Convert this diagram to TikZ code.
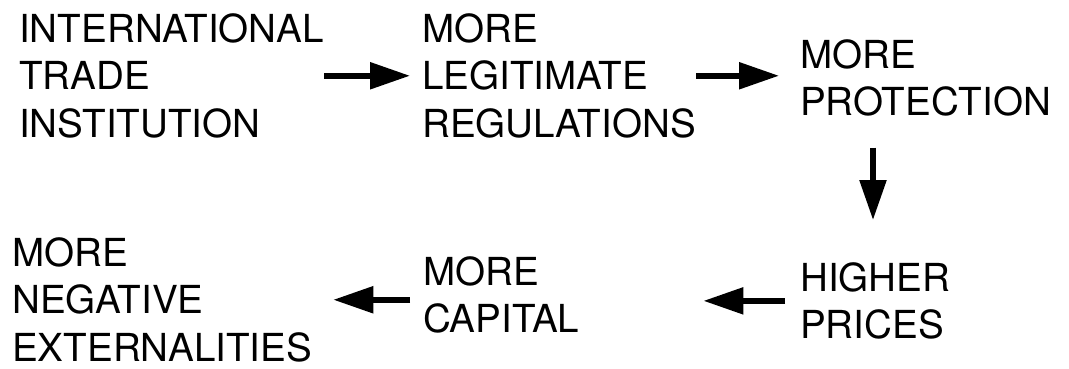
\documentclass[tikz,border=0pt]{standalone}
\usepackage{fontspec}
\setmainfont{TeX Gyre Heros}
\usepackage{tikz}
\usetikzlibrary{arrows.meta,calc}

\begin{document}
\begin{tikzpicture}[
        x=1pt, y=-1pt,
        every node/.style={font=\fontsize{38.6}{47.8}\selectfont,
                           align=left, inner sep=0pt, anchor=north west},
        flow/.style={line width=5.5pt,
                     -{Triangle[length=40pt,width=26pt]}}
      ]

        \useasboundingbox (0,0) rectangle (1069,369);

        % Top row ------------------------------------------------
        \node (inst)  at (19,13)   {INTERNATIONAL\\TRADE\\INSTITUTION};
        \node (legit) at (422,13)  {MORE\\LEGITIMATE\\REGULATIONS};
        \node (prot)  at (800,39)  {MORE\\PROTECTION};

        % Bottom row ---------------------------------------------
        \node (prices)  at (800,262) {HIGHER\\PRICES};
        \node (capital) at (423,256) {MORE\\CAPITAL};
        \node (extern)  at (12,237)  {MORE\\NEGATIVE\\EXTERNALITIES};

        % Arrows -------------------------------------------------
        \draw[flow, shorten <=0.5pt, shorten >=12pt]
          (inst.east) -- (inst.east -| legit.west);
        \draw[flow, shorten <=0pt, shorten >=21pt]
          (legit.east) -- (legit.east -| prot.west);
        \draw[flow, shorten <=31pt, shorten >=42pt]
          ([xshift=73pt]prot.south west) -- ([xshift=73pt]prot.south west |- prices.north);
        \draw[flow, shorten <=15pt, shorten >=124pt]
          (prices.west) -- (prices.west -| capital.east);
        \draw[flow, shorten <=13pt, shorten >=21pt]
          (capital.west |- extern.east) -- (extern.east);

      \end{tikzpicture}
\end{document}
